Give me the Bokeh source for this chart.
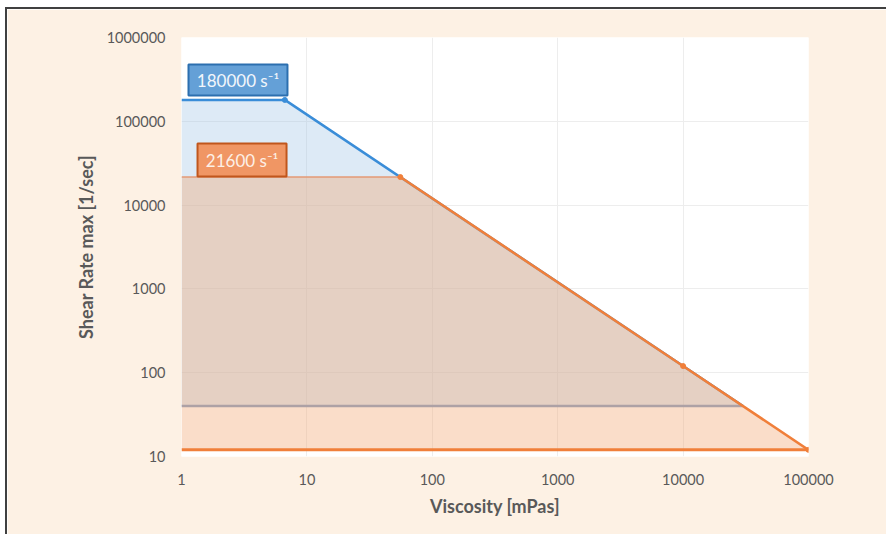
from bokeh.plotting import figure
from bokeh.models import FixedTicker, BoxAnnotation, Label
from bokeh.embed import file_html
from bokeh.resources import INLINE

# ---- data -------------------------------------------------------------
viscosity_ticks = [1, 10, 100, 1000, 10000, 100000]
viscosity_tick_labels = ["1", "10", "100", "1000", "10000", "100000"]
shear_ticks = [10, 100, 1000, 10000, 100000, 1000000]
shear_tick_labels = ["10", "100", "1000", "10000", "100000", "1000000"]

# blue series (180000 1/s)
blue_visc = [1, 6.67, 30000]
blue_shear = [180000, 180000, 40]
blue_floor = 40

# orange series (21600 1/s)
orange_visc = [1, 55.6, 10000, 100000]
orange_shear = [21600, 21600, 120, 12]
orange_floor = 12

# ---- styling ----------------------------------------------------------
BEIGE = "#FDF1E4"
TXT = "#595959"
FONT = "Lato"
BLUE = "#3A8DD8"
ORANGE = "#F07F3A"

p = figure(width=881, height=527, x_axis_type="log", y_axis_type="log",
           x_range=(1, 100000), y_range=(10, 1000000),
           output_backend="svg", toolbar_location=None,
           min_border_left=174, min_border_right=80,
           min_border_top=28, min_border_bottom=80)
p.styles = {"margin-left": "5px", "margin-top": "7px",
            "border-left": "2px solid #404040",
            "border-top": "2px solid #404040"}
p.border_fill_color = BEIGE
p.background_fill_color = "white"
p.outline_line_color = None

xt = FixedTicker(ticks=viscosity_ticks, minor_ticks=[])
yt = FixedTicker(ticks=shear_ticks, minor_ticks=[])
p.xaxis.ticker = xt
p.yaxis.ticker = yt
p.xaxis.major_label_overrides = {float(t): l for t, l in zip(viscosity_ticks, viscosity_tick_labels)}
p.yaxis.major_label_overrides = {float(t): l for t, l in zip(shear_ticks, shear_tick_labels)}

for ax in (p.xaxis, p.yaxis):
    ax.axis_line_color = None
    ax.major_tick_line_color = None
    ax.minor_tick_line_color = None
    ax.major_tick_out = 0
    ax.minor_tick_out = 0
    ax.major_label_text_font = FONT
    ax.major_label_text_font_size = "14.5px"
    ax.major_label_text_color = TXT
    ax.axis_label_text_font = FONT
    ax.axis_label_text_font_style = "bold"
    ax.axis_label_text_font_size = "18px"
    ax.axis_label_text_color = TXT

p.xaxis.axis_label = "Viscosity [mPas]"
p.yaxis.axis_label = "Shear Rate max [1/sec]"
p.xaxis.major_label_standoff = 17
p.xaxis.axis_label_standoff = 7
p.yaxis.major_label_standoff = 16
p.yaxis.axis_label_standoff = 7

p.xgrid.grid_line_color = "#EDEDED"
p.ygrid.grid_line_color = "#EDEDED"

# ---- blue area + outline ---------------------------------------------
p.varea(x=blue_visc, y1=[blue_floor] * len(blue_visc), y2=blue_shear,
        fill_color="#9DC3E6", fill_alpha=0.35)
p.line(blue_visc, blue_shear, line_color=BLUE, line_width=2.5)
p.line([blue_visc[0], blue_visc[-1]], [blue_floor, blue_floor],
       line_color="#7F9CC4", line_width=2.5)

# ---- orange area + outline -------------------------------------------
p.varea(x=orange_visc, y1=[orange_floor] * len(orange_visc), y2=orange_shear,
        fill_color="#F2AA78", fill_alpha=0.4)
p.line(orange_visc[:2], orange_shear[:2], line_color="#E39A76", line_width=1.5)
p.line(orange_visc[1:], orange_shear[1:], line_color=ORANGE, line_width=2.5)
p.line([orange_visc[0], orange_visc[-1]], [orange_floor, orange_floor],
       line_color=ORANGE, line_width=3)

p.scatter([blue_visc[1]], [blue_shear[1]], size=5, color=BLUE)
p.scatter(orange_visc[1:], orange_shear[1:], size=5, color=ORANGE)

# ---- label boxes -----------------------------------------------------
p.add_layout(BoxAnnotation(left=1.137, right=7.0, bottom=203000, top=476000,
                           fill_color="#64A0D7", fill_alpha=1,
                           line_color="#2C6FAF", line_alpha=1, line_width=2,
                           line_dash="solid"))
p.add_layout(Label(x=2.82, y=311000, text=f"{blue_shear[0]} s⁻¹",
                   text_align="center", text_baseline="middle",
                   text_font=FONT, text_font_size="17px", text_color="#F2F6FB"))

p.add_layout(BoxAnnotation(left=1.342, right=6.88, bottom=21900, top=54300,
                           fill_color="#F09664", fill_alpha=1,
                           line_color="#C0561C", line_alpha=1, line_width=2,
                           line_dash="solid"))
p.add_layout(Label(x=3.04, y=34500, text=f"{orange_shear[0]} s⁻¹",
                   text_align="center", text_baseline="middle",
                   text_font=FONT, text_font_size="17px", text_color="#FDF0E6"))

open("out.html", "w").write(file_html(p, INLINE))
